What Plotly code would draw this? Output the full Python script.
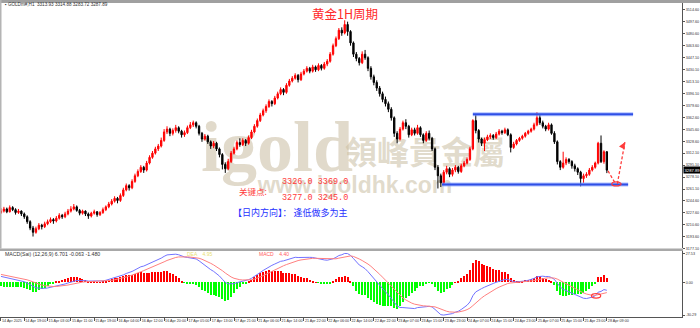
import plotly.graph_objects as go

# ---------------- data ----------------
tick_labels = ["14 Apr 2025", "14 Apr 19:00", "15 Apr 03:00", "15 Apr 11:00", "15 Apr 19:00",
               "16 Apr 04:00", "16 Apr 12:00", "16 Apr 20:00", "17 Apr 05:00", "17 Apr 13:00",
               "17 Apr 21:00", "21 Apr 06:00", "21 Apr 14:00", "21 Apr 22:00", "22 Apr 06:00",
               "22 Apr 14:00", "22 Apr 22:00", "23 Apr 07:00", "23 Apr 15:00", "23 Apr 23:00",
               "24 Apr 07:00", "24 Apr 15:00", "24 Apr 23:00", "25 Apr 07:00", "25 Apr 15:00",
               "25 Apr 23:00", "28 Apr 09:00"]

opens = [3228, 3230, 3233, 3229, 3235, 3232, 3228, 3230, 3226, 3222, 3215, 3206, 3200, 3205, 3210, 3208,
         3212, 3215, 3218, 3216, 3220, 3224, 3222, 3226, 3230, 3233, 3236, 3231, 3227, 3230, 3226, 3223,
         3227, 3229, 3225, 3228, 3232, 3236, 3240, 3244, 3248, 3245, 3252, 3260, 3266, 3263, 3272, 3280,
         3286, 3292, 3288, 3298, 3306, 3312, 3318, 3322, 3330, 3342, 3346, 3340, 3344, 3348, 3343, 3338,
         3341, 3348, 3352, 3355, 3350, 3340, 3332, 3336, 3328, 3322, 3326, 3318, 3310, 3296, 3290, 3300,
         3312, 3318, 3327, 3324, 3330, 3326, 3334, 3342, 3350, 3358, 3366, 3372, 3378, 3385, 3382, 3390,
         3396, 3402, 3398, 3408, 3414, 3418, 3422, 3416, 3424, 3428, 3432, 3428, 3434, 3430, 3436, 3432,
         3438, 3442, 3452, 3464, 3474, 3486, 3482, 3494, 3484, 3468, 3452, 3446, 3440, 3452, 3447, 3432,
         3420, 3412, 3404, 3396, 3388, 3382, 3374, 3362, 3340, 3332, 3346, 3355, 3350, 3338, 3345, 3340,
         3348, 3338, 3330, 3340, 3333, 3318, 3292, 3280, 3270, 3285, 3290, 3282, 3288, 3292, 3286, 3294,
         3298, 3303, 3318, 3358, 3344, 3332, 3326, 3331, 3335, 3337, 3334, 3339, 3343, 3341, 3345, 3338,
         3320, 3325, 3330, 3333, 3336, 3340, 3343, 3346, 3352, 3362, 3355, 3350, 3346, 3352, 3340, 3328,
         3300, 3292, 3298, 3303, 3300, 3294, 3290, 3285, 3276, 3280, 3282, 3288, 3292, 3298, 3326, 3300,
         3313.93]
highs = [3234, 3236, 3235, 3238, 3237, 3234, 3233, 3231, 3228, 3224, 3217, 3209, 3208, 3213, 3212, 3215,
         3218, 3221, 3220, 3223, 3227, 3226, 3229, 3233, 3237, 3240, 3238, 3233, 3232, 3231, 3228, 3229,
         3232, 3230, 3230, 3235, 3238, 3243, 3247, 3251, 3250, 3255, 3263, 3269, 3268, 3275, 3283, 3289,
         3295, 3294, 3301, 3309, 3315, 3321, 3325, 3334, 3346, 3350, 3348, 3347, 3352, 3350, 3345, 3344,
         3351, 3356, 3358, 3357, 3352, 3342, 3339, 3338, 3330, 3329, 3328, 3320, 3312, 3299, 3304, 3315,
         3321, 3330, 3333, 3333, 3332, 3337, 3345, 3353, 3361, 3369, 3375, 3381, 3388, 3387, 3393, 3399,
         3405, 3404, 3411, 3417, 3421, 3425, 3424, 3427, 3431, 3435, 3434, 3437, 3436, 3439, 3438, 3441,
         3445, 3455, 3467, 3477, 3489, 3490, 3500, 3498, 3486, 3470, 3455, 3448, 3456, 3458, 3449, 3435,
         3423, 3415, 3407, 3399, 3392, 3385, 3377, 3364, 3343, 3349, 3358, 3360, 3352, 3348, 3348, 3352,
         3350, 3340, 3343, 3344, 3335, 3320, 3295, 3283, 3288, 3294, 3292, 3291, 3295, 3294, 3297, 3301,
         3306, 3321, 3360, 3366, 3346, 3334, 3334, 3338, 3340, 3339, 3342, 3346, 3345, 3348, 3347, 3340,
         3328, 3332, 3335, 3338, 3342, 3345, 3348, 3355, 3370, 3366, 3358, 3352, 3355, 3354, 3343, 3330,
         3302, 3314, 3306, 3305, 3302, 3297, 3292, 3287, 3283, 3285, 3291, 3295, 3300, 3328, 3337, 3316,
         3314.88]
lows = [3226, 3228, 3227, 3228, 3230, 3225, 3226, 3223, 3219, 3212, 3203, 3194, 3198, 3203, 3204, 3206,
        3210, 3213, 3212, 3214, 3218, 3219, 3220, 3224, 3228, 3231, 3229, 3224, 3225, 3223, 3219, 3221,
        3225, 3222, 3223, 3226, 3230, 3234, 3238, 3242, 3241, 3243, 3250, 3258, 3259, 3261, 3270, 3278,
        3284, 3284, 3286, 3296, 3304, 3310, 3315, 3320, 3328, 3339, 3336, 3337, 3341, 3340, 3334, 3335,
        3339, 3346, 3349, 3347, 3337, 3328, 3330, 3325, 3318, 3319, 3315, 3306, 3289, 3284, 3288, 3298,
        3310, 3316, 3321, 3322, 3322, 3324, 3332, 3340, 3348, 3356, 3364, 3369, 3376, 3378, 3380, 3388,
        3394, 3394, 3396, 3406, 3412, 3416, 3412, 3414, 3422, 3426, 3425, 3426, 3427, 3428, 3429, 3430,
        3435, 3440, 3450, 3462, 3472, 3478, 3480, 3478, 3464, 3448, 3442, 3436, 3438, 3444, 3428, 3416,
        3408, 3400, 3392, 3384, 3378, 3370, 3358, 3335, 3326, 3330, 3344, 3346, 3334, 3336, 3337, 3338,
        3335, 3326, 3328, 3330, 3315, 3288, 3262, 3264, 3268, 3282, 3278, 3279, 3285, 3283, 3284, 3292,
        3296, 3301, 3316, 3340, 3327, 3322, 3315, 3329, 3332, 3331, 3332, 3337, 3338, 3339, 3336, 3313,
        3318, 3323, 3328, 3331, 3334, 3338, 3341, 3344, 3350, 3352, 3347, 3343, 3344, 3338, 3325, 3296,
        3288, 3290, 3295, 3297, 3290, 3286, 3281, 3265, 3270, 3277, 3280, 3286, 3290, 3296, 3298, 3297,
        3283.72]
closes = [3230, 3233, 3229, 3235, 3232, 3228, 3230, 3226, 3222, 3215, 3206, 3200, 3205, 3210, 3208, 3212,
          3215, 3218, 3216, 3220, 3224, 3222, 3226, 3230, 3233, 3236, 3231, 3227, 3230, 3226, 3223, 3227,
          3229, 3225, 3228, 3232, 3236, 3240, 3244, 3248, 3245, 3252, 3260, 3266, 3263, 3272, 3280, 3286,
          3292, 3288, 3298, 3306, 3312, 3318, 3322, 3330, 3342, 3346, 3340, 3344, 3348, 3343, 3338, 3341,
          3348, 3352, 3355, 3350, 3340, 3332, 3336, 3328, 3322, 3326, 3318, 3310, 3296, 3290, 3300, 3312,
          3318, 3327, 3324, 3330, 3326, 3334, 3342, 3350, 3358, 3366, 3372, 3378, 3385, 3382, 3390, 3396,
          3402, 3398, 3408, 3414, 3418, 3422, 3416, 3424, 3428, 3432, 3428, 3434, 3430, 3436, 3432, 3438,
          3442, 3452, 3464, 3474, 3486, 3482, 3494, 3484, 3468, 3452, 3446, 3440, 3452, 3447, 3432, 3420,
          3412, 3404, 3396, 3388, 3382, 3374, 3362, 3340, 3332, 3346, 3355, 3350, 3338, 3345, 3340, 3348,
          3338, 3330, 3340, 3333, 3318, 3292, 3280, 3270, 3285, 3290, 3282, 3288, 3292, 3286, 3294, 3298,
          3303, 3318, 3358, 3344, 3332, 3326, 3331, 3335, 3337, 3334, 3339, 3343, 3341, 3345, 3338, 3320,
          3325, 3330, 3333, 3336, 3340, 3343, 3346, 3352, 3362, 3355, 3350, 3346, 3352, 3340, 3328, 3300,
          3292, 3298, 3303, 3300, 3294, 3290, 3285, 3276, 3280, 3282, 3288, 3292, 3298, 3326, 3300, 3313.93,
          3287.89]

price_ticks = [3514.60, 3497.60, 3480.60, 3463.60, 3447.10, 3430.10, 3413.10, 3396.10, 3379.60, 3362.60,
               3345.60, 3328.60, 3312.10, 3295.10, 3278.10, 3261.10, 3244.60, 3227.60, 3210.60, 3193.60,
               3177.10]

key_levels_top = "3326.0 3369.0"
key_levels_bottom = "3277.0 3245.0"
range_top, range_bottom = 3367.0, 3267.5          # blue box lines
range_top_span, range_bottom_span = (162.0, 217.0), (151.4, 215.3)
arrow_start, arrow_mid, arrow_tip = (208.4, 3286.8), (211.0, 3268.5), (214.2, 3327.5)
ellipse_main = (211.3, 3268.5)
ellipse_macd_x = 204.3

# MACD seeds (state of the EMAs at the left edge, read from the indicator window)
ema12_seed, ema26_seed, dea_seed = 3236.0, 3229.0, 8.3
HIST_MULT = 2.0

# ---------------- indicator ----------------
N = len(closes)
idx = list(range(N))
e12, e26, dea = ema12_seed, ema26_seed, dea_seed
dif_v, dea_v, hist_v = [], [], []
for c in closes:
    e12 += 2 / 13 * (c - e12)
    e26 += 2 / 27 * (c - e26)
    d = e12 - e26
    dea += 2 / 10 * (d - dea)
    dif_v.append(d)
    dea_v.append(dea)
    hist_v.append(HIST_MULT * (d - dea))

m_hi = max(max(dif_v), max(dea_v), max(hist_v))
m_lo = min(min(dif_v), min(dea_v), min(hist_v))
upp = (m_hi - m_lo) / 62.0
macd_range = [m_lo - 2 * upp, m_hi + 3 * upp]
macd_ticks = [m_hi, 0.0, m_lo]

W, H = 700, 328
def px_x(x): return x / W
def px_y(y): return 1 - y / H

XD = [0, px_x(682)]
fig = go.Figure()

fig.add_trace(go.Candlestick(
    x=idx, open=opens, high=highs, low=lows, close=closes,
    increasing=dict(line=dict(color="#ff0000", width=1), fillcolor="#ff0000"),
    decreasing=dict(line=dict(color="#000000", width=1), fillcolor="#000000"),
    whiskerwidth=0, xaxis="x", yaxis="y", showlegend=False, hoverinfo="skip"))

fig.add_trace(go.Bar(x=idx, y=hist_v, width=0.38,
                     marker=dict(color=["#ff0000" if v >= 0 else "#00ff00" for v in hist_v], line=dict(width=0)),
                     xaxis="x2", yaxis="y2", showlegend=False, hoverinfo="skip"))
fig.add_trace(go.Scatter(x=idx, y=dif_v, mode="lines", line=dict(color="#7373ff", width=1),
                         xaxis="x2", yaxis="y2", showlegend=False, hoverinfo="skip"))
fig.add_trace(go.Scatter(x=idx, y=dea_v, mode="lines", line=dict(color="#ff8080", width=1),
                         xaxis="x2", yaxis="y2", showlegend=False, hoverinfo="skip"))

small = dict(family="Liberation Sans", size=3.7, color="#333333")
xr = [-0.34, 233.8]
fig.update_layout(
    width=W, height=H, margin=dict(l=0, r=0, t=0, b=0), autosize=False,
    paper_bgcolor="white", plot_bgcolor="white", boxgap=0.35, bargap=0,
    xaxis=dict(domain=XD, range=xr, anchor="y", showticklabels=False, showgrid=False,
               zeroline=False, rangeslider=dict(visible=False), showline=False),
    xaxis2=dict(domain=XD, range=xr, anchor="y2", showgrid=False, zeroline=False,
                tickvals=[8 * k for k in range(len(tick_labels))], ticktext=tick_labels,
                tickangle=0, ticks="outside", ticklen=3, tickcolor="#555555", tickwidth=1,
                ticklabelposition="outside right", tickfont=small,
                showline=True, linecolor="#555555", linewidth=1),
    yaxis=dict(domain=[px_y(250), px_y(3)], range=[3177.1, 3524.45], side="right", anchor="x",
               tickvals=price_ticks, ticktext=["%.2f" % v for v in price_ticks],
               ticks="outside", ticklen=2, tickcolor="#555555", tickfont=small,
               showgrid=False, zeroline=False, showline=True, linecolor="#555555", linewidth=1),
    yaxis2=dict(domain=[px_y(319), px_y(252)], range=macd_range, side="right", anchor="x2",
                tickvals=macd_ticks, ticktext=["%.2f" % v for v in macd_ticks],
                ticks="outside", ticklen=2, tickcolor="#555555", tickfont=small,
                showgrid=False, zeroline=False, showline=True, linecolor="#555555", linewidth=1),
)

shapes = []
shapes.append(dict(type="rect", xref="paper", yref="paper", x0=0, x1=1, y0=px_y(3), y1=1,
                   line=dict(width=0), fillcolor="#a0a0a0", layer="above"))
shapes.append(dict(type="rect", xref="paper", yref="paper", x0=0, x1=px_x(1.5), y0=px_y(250), y1=1,
                   line=dict(width=0), fillcolor="#b4b4b4", layer="above"))
shapes.append(dict(type="rect", xref="paper", yref="paper", x0=0, x1=px_x(683), y0=px_y(252.5), y1=px_y(250),
                   line=dict(width=0), fillcolor="#a8a8a8", layer="above"))

wm = "rgba(200,188,160,0.55)"
shapes.append(dict(type="rect", xref="paper", yref="paper", x0=px_x(207), x1=px_x(347), y0=px_y(182), y1=px_y(98),
                   line=dict(width=0), fillcolor="rgba(0,0,0,0)", layer="below",
                   label=dict(text="igold", textposition="middle center",
                              font=dict(family="Liberation Serif", size=72, color=wm, weight="bold"))))
shapes.append(dict(type="rect", xref="paper", yref="paper", x0=px_x(345), x1=px_x(505), y0=px_y(176), y1=px_y(136),
                   line=dict(width=0), fillcolor="rgba(0,0,0,0)", layer="below",
                   label=dict(text="領峰貴金屬", textposition="middle center",
                              font=dict(family="Noto Sans CJK TC", size=32, color=wm, weight="bold"))))
shapes.append(dict(type="rect", xref="paper", yref="paper", x0=px_x(250), x1=px_x(460), y0=px_y(196), y1=px_y(172),
                   line=dict(width=0), fillcolor="rgba(0,0,0,0)", layer="below",
                   label=dict(text="www.igoldhk.com", textposition="middle center",
                              font=dict(family="Liberation Sans", size=23, color=wm, weight="bold"))))

for (x0, x1), yv in ((range_top_span, range_top), (range_bottom_span, range_bottom)):
    shapes.append(dict(type="line", xref="x", yref="y", x0=x0, x1=x1, y0=yv, y1=yv,
                       line=dict(color="rgba(120,150,255,0.6)", width=4)))
    shapes.append(dict(type="line", xref="x", yref="y", x0=x0, x1=x1, y0=yv, y1=yv,
                       line=dict(color="#2f4fe6", width=2)))

shapes.append(dict(type="line", xref="x", yref="y", x0=arrow_start[0], y0=arrow_start[1],
                   x1=arrow_mid[0], y1=arrow_mid[1], line=dict(color="#ff3b3b", width=1.3, dash="3px,2px")))
shapes.append(dict(type="line", xref="x", yref="y", x0=arrow_mid[0] + 0.6, y0=arrow_mid[1],
                   x1=arrow_tip[0], y1=arrow_tip[1], line=dict(color="#ff3b3b", width=1.3, dash="3px,2px")))
cx, cy = ellipse_main
shapes.append(dict(type="circle", xref="x", yref="y", x0=cx - 1.6, x1=cx + 1.6, y0=cy - 2.9, y1=cy + 2.9,
                   line=dict(color="#ff3b3b", width=1.2)))
my = dif_v[int(round(ellipse_macd_x))]
eh = 2.3 * upp
shapes.append(dict(type="circle", xref="x2", yref="y2", x0=ellipse_macd_x - 1.6, x1=ellipse_macd_x + 1.6,
                   y0=my - eh, y1=my + eh, line=dict(color="#ff3b3b", width=1.2)))
fig.update_layout(shapes=shapes)

ann = []
def txt(x, y, s, size, color, family="Liberation Sans", xanchor="left", **kw):
    ann.append(dict(xref="paper", yref="paper", x=px_x(x), y=px_y(y), text=s, showarrow=False,
                    xanchor=xanchor, yanchor="middle", font=dict(family=family, size=size, color=color), **kw))

ann.append(dict(xref="x", yref="y", x=arrow_tip[0], y=arrow_tip[1], ax=arrow_tip[0] - 0.9, ay=arrow_tip[1] - 7,
                axref="x", ayref="y", text="", showarrow=True, arrowhead=2, arrowsize=1, arrowwidth=1.3,
                arrowcolor="#ff3b3b"))

txt(3, 4.8, "▪ GOLDm#,H1  3313.93 3314.88 3283.72 3287.89", 4.6, "#333333")
txt(345, 14, "黄金1H周期", 12.5, "#ff2a2a", family="Noto Sans CJK SC", xanchor="center")
txt(253, 192, "关键点:", 8.5, "#ff3a3a", family="Noto Sans CJK SC", xanchor="center")
txt(315, 183, key_levels_top, 8.5, "#ff3a3a", family="Liberation Mono", xanchor="center")
txt(315, 199, key_levels_bottom, 8.5, "#ff3a3a", family="Liberation Mono", xanchor="center")
txt(290, 214, "【日内方向】： 逢低做多为主", 9, "#1f32ff", family="Noto Sans CJK SC", xanchor="center")
txt(3, 255.5, "MACD(Sai) (12,26,9) 6.701 -0.063 -1.480", 5.2, "#333333")
txt(185, 255.5, "DEA    4.95", 5, "#e8e070")
txt(257, 255.5, "MACD    4.40", 5, "#ff5a5a")

ann.append(dict(xref="paper", yref="y", x=px_x(683), y=closes[-1], text="%.2f" % closes[-1], showarrow=False,
                xanchor="left", yanchor="middle", bgcolor="#000000", borderpad=0.5,
                font=dict(family="Liberation Sans", size=4.2, color="#ffffff")))
fig.update_layout(annotations=ann)

fig.write_html("out.html")
